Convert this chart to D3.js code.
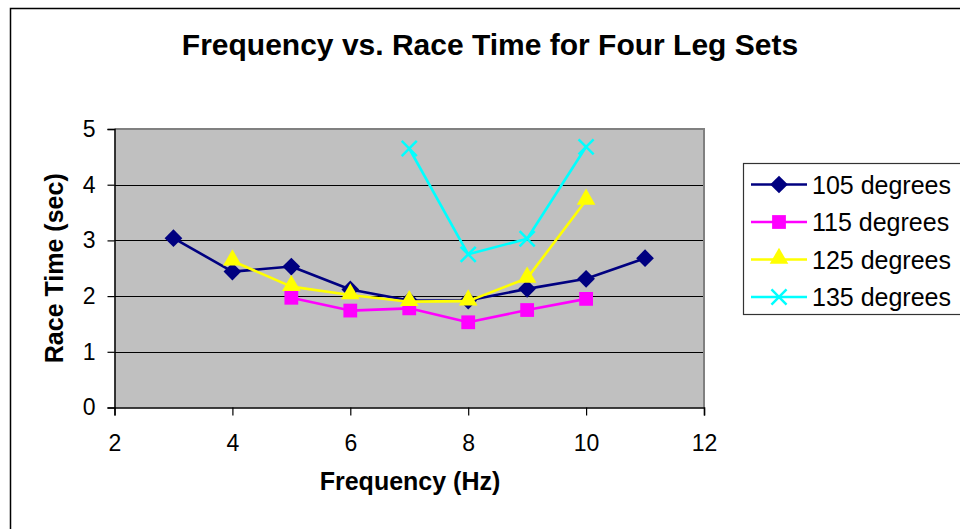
<!DOCTYPE html>
<html>
<head>
<meta charset="utf-8">
<script src="https://cdn.jsdelivr.net/npm/d3@7"></script>
<style>
  html, body { margin: 0; padding: 0; background: #fff; }
  svg { display: block; font-family: "Liberation Sans", Arial, sans-serif; }
</style>
</head>
<body>
<svg id="chart" width="960" height="529"></svg>
<script>
// Race time (sec) by drive frequency (Hz) for each leg set
const seriesNames = ["105 degrees", "115 degrees", "125 degrees", "135 degrees"];
const seriesColors = ["#000080", "#FF00FF", "#FFFF00", "#00FFFF"];
const seriesMarkers = ["diamond", "square", "triangle", "cross"];

const freq105 = [3, 4, 5, 6, 7, 8, 9, 10, 11];
const time105 = [3.04, 2.44, 2.53, 2.12, 1.92, 1.92, 2.13, 2.31, 2.68];

const freq115 = [5, 6, 7, 8, 9, 10];
const time115 = [1.97, 1.74, 1.78, 1.53, 1.75, 1.95];

const freq125 = [4, 5, 6, 7, 8, 9, 10];
const time125 = [2.63, 2.17, 2.02, 1.90, 1.91, 2.32, 3.72];

const freq135 = [7, 8, 9, 10];
const time135 = [4.65, 2.75, 3.03, 4.68];

const xTicks = [2, 4, 6, 8, 10, 12];
const yTicks = [0, 1, 2, 3, 4, 5];

const chartTitle = "Frequency vs. Race Time for Four Leg Sets";
const xTitle = "Frequency (Hz)";
const yTitle = "Race Time (sec)";

const series = [
  { x: freq105, y: time105 },
  { x: freq115, y: time115 },
  { x: freq125, y: time125 },
  { x: freq135, y: time135 }
].map((s, i) => ({
  name: seriesNames[i],
  color: seriesColors[i],
  marker: seriesMarkers[i],
  points: s.x.map((f, j) => ({ x: f, y: s.y[j] }))
}));

const svg = d3.select("#chart");

// outer chart frame
svg.append("rect")
  .attr("x", 10.5).attr("y", 8.5)
  .attr("width", 1000).attr("height", 600)
  .attr("fill", "#fff").attr("stroke", "#000").attr("stroke-width", 1.5);

const plot = { left: 114.5, top: 129, right: 704, bottom: 407.5 };

const x = d3.scaleLinear().domain([2, 12]).range([plot.left, plot.right]);
const y = d3.scaleLinear().domain([0, 5]).range([plot.bottom, plot.top]);

// plot background
svg.append("rect")
  .attr("x", plot.left).attr("y", plot.top)
  .attr("width", plot.right - plot.left).attr("height", plot.bottom - plot.top)
  .attr("fill", "#C0C0C0");

// horizontal gridlines
svg.append("g")
  .selectAll("line")
  .data(yTicks.filter(t => t > 0 && t < 5))
  .join("line")
  .attr("x1", plot.left).attr("x2", plot.right)
  .attr("y1", d => Math.round(y(d)) + 0.5).attr("y2", d => Math.round(y(d)) + 0.5)
  .attr("stroke", "#000").attr("stroke-width", 1);

// plot border (top/right gray)
svg.append("path")
  .attr("d", `M${plot.left},${plot.top} H${plot.right} V${plot.bottom}`)
  .attr("fill", "none").attr("stroke", "#808080").attr("stroke-width", 2);

// axes
const yAxis = d3.axisLeft(y).tickValues(yTicks).tickSize(7).tickPadding(12).tickFormat(d3.format("d"));
const xAxis = d3.axisBottom(x).tickValues(xTicks).tickSize(8).tickPadding(19).tickFormat(d3.format("d"));

const gy = svg.append("g").attr("transform", `translate(${plot.left},0)`).call(yAxis);
const gx = svg.append("g").attr("transform", `translate(0,${plot.bottom})`).call(xAxis);

[gx, gy].forEach(g => {
  g.select(".domain").attr("stroke", "#000").attr("stroke-width", 1.5);
  g.selectAll(".tick line").attr("stroke", "#000").attr("stroke-width", 1.2);
  g.selectAll(".tick text")
    .attr("fill", "#000")
    .style("font-family", "'Liberation Sans', Arial, sans-serif")
    .style("font-size", "23px");
});

// series lines
const line = d3.line().x(d => x(d.x)).y(d => y(d.y));

const symbolFor = {
  diamond: d3.symbol().type(d3.symbolDiamond2).size(200),
  square: d3.symbol().type(d3.symbolSquare).size(190),
  triangle: d3.symbol().type(d3.symbolTriangle).size(150),
  cross: d3.symbol().type(d3.symbolX).size(150)
};

function drawMarker(g, kind, color) {
  const p = g.append("path").attr("d", symbolFor[kind]());
  if (kind === "cross") {
    p.attr("fill", "none").attr("stroke", color).attr("stroke-width", 2.5);
  } else {
    p.attr("fill", color);
  }
  return p;
}

series.forEach(s => {
  const g = svg.append("g");
  g.append("path")
    .datum(s.points)
    .attr("d", line)
    .attr("fill", "none")
    .attr("stroke", s.color)
    .attr("stroke-width", 2.6)
    .attr("stroke-linejoin", "round");
  s.points.forEach(p => {
    const mg = g.append("g").attr("transform", `translate(${x(p.x)},${y(p.y) + (s.marker === "triangle" ? -1 : 0)})`);
    drawMarker(mg, s.marker, s.color);
  });
});

// titles
svg.append("text")
  .attr("x", 490).attr("y", 55)
  .attr("text-anchor", "middle")
  .style("font-size", "30px").style("font-weight", "bold")
  .text(chartTitle);

svg.append("text")
  .attr("x", 410).attr("y", 490)
  .attr("text-anchor", "middle")
  .style("font-size", "25px").style("font-weight", "bold")
  .text(xTitle);

svg.append("text")
  .attr("transform", `translate(63,${(plot.top + plot.bottom) / 2}) rotate(-90)`)
  .attr("text-anchor", "middle")
  .style("font-size", "25px").style("font-weight", "bold")
  .text(yTitle);

// legend
const legend = svg.append("g");
legend.append("rect")
  .attr("x", 743.5).attr("y", 163.5)
  .attr("width", 300).attr("height", 151)
  .attr("fill", "#fff").attr("stroke", "#333").attr("stroke-width", 1.2);

const legendY = d3.scalePoint().domain(seriesNames).range([184.5, 297]);

series.forEach(s => {
  const cy = legendY(s.name);
  const row = legend.append("g");
  row.append("line")
    .attr("x1", 751).attr("x2", 807)
    .attr("y1", cy).attr("y2", cy)
    .attr("stroke", s.color).attr("stroke-width", 2.6);
  const mg = row.append("g").attr("transform", `translate(779,${cy + (s.marker === "triangle" ? -1 : 0)})`);
  drawMarker(mg, s.marker, s.color);
  row.append("text")
    .attr("x", 812).attr("y", cy)
    .attr("dy", "0.36em")
    .style("font-size", "25px")
    .text(s.name);
});
</script>
</body>
</html>
